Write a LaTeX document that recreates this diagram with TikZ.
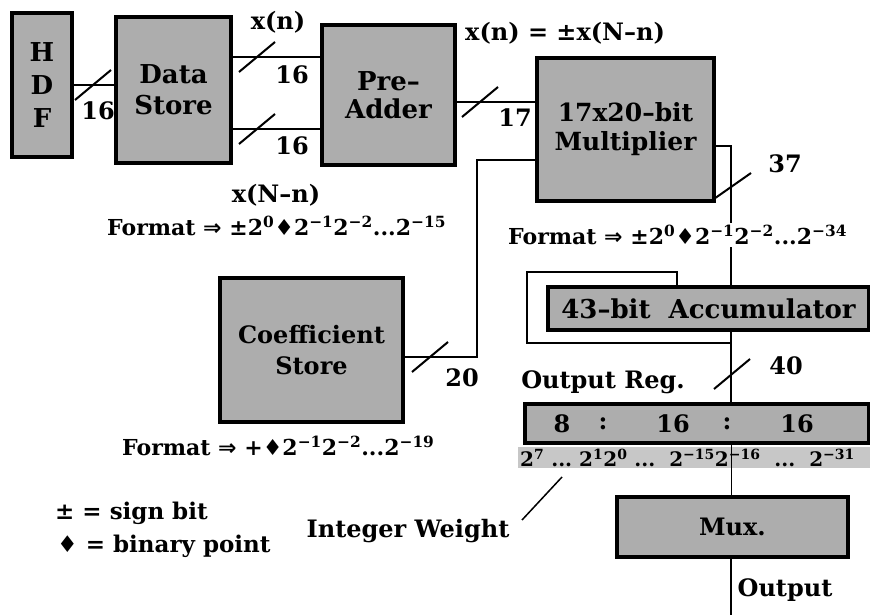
\documentclass[tikz,border=0pt]{standalone}
\usepackage{fontspec}
\setmainfont{DejaVu Serif}
\newfontfamily\symf{DejaVu Sans}
\newcommand{\bpt}{{\symf ♦}}
\newcommand{\up}[1]{\textsuperscript{#1}}
\newcommand{\fs}[2]{\fontsize{#1}{#2}\selectfont}
\begin{document}
\begin{tikzpicture}[x=1pt,y=-1pt,
  blk/.style={draw, line width=3.5pt, fill=black!32, align=center,
    inner sep=0pt, font=\bfseries\fs{25}{30}},
  wire/.style={line width=2pt},
  lbl/.style={inner sep=1pt, font=\bfseries\fs{24}{26}},
  fmt/.style={inner sep=2pt, anchor=west, font=\bfseries\fs{22}{24}},
  band/.style={fill=black!22, draw=none}]
\useasboundingbox (0,0) rectangle (870,615);

% functional blocks
\node[blk, minimum width=60, minimum height=144, font=\bfseries\fs{26}{33}] (hdf) at (42,85) {H\\D\\F};
\node[blk, minimum width=115, minimum height=146, font=\bfseries\fs{26}{31}] (ds) at (173.5,90) {Data\\Store};
\node[blk, minimum width=133, minimum height=140, font=\bfseries\fs{26}{28}] (pa) at (388.5,95) {Pre–\\Adder};
\node[blk, minimum width=177, minimum height=143, font=\bfseries\fs{25}{29}] (mul) at (625.5,129.5) {17x20–bit\\Multiplier};
\node[blk, minimum width=183, minimum height=144, font=\bfseries\fs{24}{31}] (coef) at (311.5,350) {Coefficient\\Store};
\node[blk, minimum width=321, minimum height=43, font=\bfseries\fs{26}{28}] (acc) at (708.5,308.5) {43–bit\ \ Accumulator};
\node[blk, minimum width=344, minimum height=39] (oreg) at (697,423.5) {};
\node[blk, minimum width=231, minimum height=60, font=\bfseries\fs{24}{26}] (mux) at (732.5,527) {Mux.};

% register field widths
\node[lbl] (f1) at (562,423.5) {8};
\node[lbl] (c1) at (603,423.5) {:};
\node[lbl] (f2) at (673,423.5) {16};
\node[lbl] (c2) at (727,423.5) {:};
\node[lbl] (f3) at (797,423.5) {16};

% bit weights under the register
\node[band, minimum width=352, minimum height=21, inner sep=0pt] (wts) at (694,457.5) {};
\node[fmt, font=\bfseries\fs{20}{22}] (wtxt) at (518,458)
  {2\up{7}\ ...\ 2\up{1}2\up{0}\ ...\ \ 2\up{−15}2\up{−16}\ \ ...\ \ 2\up{−31}};

% signal spine
\coordinate (spine) at (731,0);

% HDF -> Data Store
\draw[wire] (hdf.east) -- (hdf.east -| ds.west);
\draw[wire] (93,85) +(-18,15) -- +(18,-15);
\node[lbl] (n16a) at (98,111) {16};

% Data Store -> Pre-Adder
\draw[wire] ([yshift=33]ds.east) -- ([yshift=33]ds.east -| pa.west);
\draw[wire] ([yshift=-39]ds.east) -- ([yshift=-39]ds.east -| pa.west);
\draw[wire] (257,57) +(-18,15) -- +(18,-15);
\draw[wire] (257,129) +(-18,15) -- +(18,-15);
\node[lbl] (xn) at (278,22) {x(n)};
\node[lbl] (n16b) at (292,75) {16};
\node[lbl] (n16c) at (292,146) {16};
\node[lbl] (xNn) at (276,195) {x(N–n)};
\node[fmt] (fmt1) at (105,226) {Format {\symf ⇒} ±2\up{0}\bpt2\up{−1}2\up{−2}...2\up{−15}};

% Pre-Adder -> Multiplier
\draw[wire] ([yshift=-7]pa.east) -- ([yshift=-7]pa.east -| mul.west);
\draw[wire] (480,102) +(-18,15) -- +(18,-15);
\node[lbl] (n17) at (515,118) {17};
\node[lbl, anchor=west] (sym) at (464,33) {x(n) = ±x(N–n)};

% Coefficient Store -> Multiplier
\coordinate (cb) at (477,160);
\draw[wire] ([yshift=-7]coef.east) -| (cb) -- (cb -| mul.west);
\draw[wire] (430,357) +(-18,15) -- +(18,-15);
\node[lbl] (n20) at (462,378) {20};
\node[fmt] (fmt3) at (120,446) {Format {\symf ⇒} +\bpt2\up{−1}2\up{−2}...2\up{−19}};

% Multiplier -> Accumulator
\draw[wire] ([yshift=-16.5]mul.east) -| (acc.north -| spine);
\draw[wire] (731,187) +(-20,14) -- +(20,-14);
\node[lbl] (n37) at (785,164) {37};
\node[fmt, fill=white] (fmt2) at (506,235) {Format {\symf ⇒} ±2\up{0}\bpt2\up{−1}2\up{−2}...2\up{−34}};

% accumulator feedback
\coordinate (fbA) at (731,343);
\coordinate (fbB) at (527,343);
\coordinate (fbC) at (527,272);
\coordinate (fbD) at (677,272);
\draw[wire] (fbA) -- (fbB) -- (fbC) -- (fbD) -- (fbD |- acc.north);

% Accumulator -> Output register
\draw[wire] (acc.south -| spine) -- (oreg.north -| spine);
\draw[wire] (732,374) +(-18,15) -- +(18,-15);
\node[lbl] (n40) at (786,366) {40};
\node[lbl] (oregl) at (603,382) {Output Reg.};

% Output register -> Mux -> output
\draw[wire, line width=1pt] (oreg.south -| spine) -- (mux.north -| spine);
\coordinate (outp) at (731,615);
\draw[wire] (mux.south -| spine) -- (outp);
\node[lbl] (outl) at (785,590) {Output};

% integer weight pointer
\node[lbl] (iw) at (408,531) {Integer Weight};
\coordinate (iwt) at (562,477);
\draw[wire, line width=1.5pt] (522,520) -- (iwt);

% legend
\node[fmt, font=\bfseries\fs{23}{25}] (lg1) at (53,513) {± = sign bit};
\node[fmt, font=\bfseries\fs{23}{25}] (lg2) at (55,546) {\bpt\ = binary point};
\end{tikzpicture}
\end{document}
